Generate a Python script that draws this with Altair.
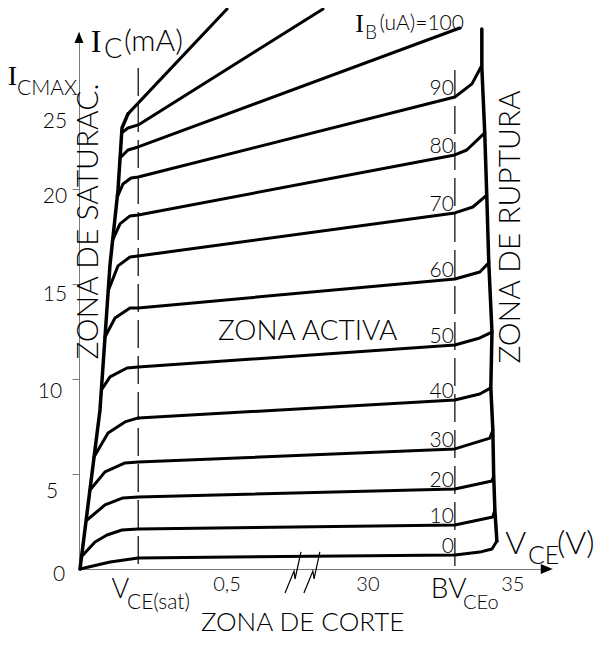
import altair as alt
import pandas as pd

# ---------------- axis layout values (volts / mA) ----------------
X_BREAK_LO, X_BREAK_HI = 0.7466, 27.655   # broken V_CE axis
X_MAX = 36.11
Y_MAX = 28.26
VCE_SAT = 0.2
BV_CEO = 33.0

# ---------------- characteristic curves I_C(V_CE) for each I_B ----------------
ib0_v = [0.0034, 0.105, 0.2, 33.0, 33.86, 34.28, 34.45]
ib0_ma = [0.0, 0.37, 0.58, 0.74, 0.89, 1.05, 1.47]
ib10_v = [0.0135, 0.0541, 0.0946, 0.1453, 0.2, 33.0, 34.31, 34.38]
ib10_ma = [0.74, 1.42, 1.79, 2.05, 2.11, 2.32, 2.74, 3.11]
ib20_v = [0.027, 0.0878, 0.1486, 0.2, 33.0, 34.28, 34.34]
ib20_ma = [2.58, 3.37, 3.74, 3.79, 4.21, 4.63, 4.89]
ib30_v = [0.0372, 0.0878, 0.1554, 0.2, 33.0, 34.21, 34.31]
ib30_ma = [4.16, 5.11, 5.58, 5.63, 6.32, 6.89, 7.32]
ib40_v = [0.0507, 0.098, 0.1554, 0.2, 33.0, 33.86, 34.24]
ib40_ma = [5.89, 7.16, 7.74, 7.95, 8.89, 9.21, 9.53]
ib50_v = [0.0757, 0.1047, 0.1622, 0.2, 33.0, 33.86, 34.28]
ib50_ma = [9.42, 10.11, 10.58, 10.63, 11.79, 12.16, 12.47]
ib60_v = [0.0878, 0.1216, 0.1723, 0.2, 33.0, 33.86, 34.17]
ib60_ma = [12.21, 13.21, 13.74, 13.74, 15.26, 15.63, 16.11]
ib70_v = [0.0997, 0.1318, 0.1723, 0.2, 33.0, 33.62, 34.10]
ib70_ma = [14.68, 15.95, 16.42, 16.47, 18.74, 19.05, 19.68]
ib80_v = [0.1139, 0.1385, 0.1723, 0.2, 33.0, 33.41, 34.03]
ib80_ma = [17.32, 18.16, 18.58, 18.63, 21.79, 22.05, 22.95]
ib90_v = [0.1294, 0.1486, 0.1757, 0.2, 33.0, 33.59, 33.90]
ib90_ma = [19.58, 20.26, 20.58, 20.63, 24.84, 25.53, 26.42]
ib100_v = [0.1385, 0.1655, 0.2, 33.17]
ib100_ma = [21.63, 22.05, 22.21, 28.47]
ib110_v = [0.144, 0.1655, 0.2, 28.45]
ib110_ma = [22.95, 23.21, 23.37, 29.47]
ib120_v = [0.1655, 0.5]
ib120_ma = [23.95, 29.47]

# saturation boundary and breakdown boundary
sat_v = [0.0034, 0.0709, 0.1047, 0.1318, 0.1453, 0.1655]
sat_ma = [0.0, 8.37, 16.0, 19.95, 23.21, 23.95]
brk_v = [33.93, 33.93, 34.03, 34.10, 34.17, 34.28, 34.24, 34.31, 34.34, 34.38, 34.45]
brk_ma = [28.42, 26.42, 22.95, 19.68, 16.11, 12.47, 9.53, 7.32, 4.89, 3.11, 1.47]

# axis-break zig-zags
cut1_v = [0.696, 0.7264, 0.7297, 27.69]
cut2_v = [27.79, 28.10, 28.14, 28.34]
cut_ma = [-1.26, -0.105, -0.526, 0.895]

# labels
ib_names = ["0", "10", "20", "30", "40", "50", "60", "70", "80", "90"]
ib_label_ma = [0.74, 2.32, 4.21, 6.32, 8.89, 11.79, 15.26, 18.74, 21.79, 24.84]
ytick_values = [5, 10, 15, 20, 25]
ylab_text = ["0", "5", "10", "15", "20", "25"]
ylab_v = [-0.0676, -0.0912, -0.0980, -0.0811, -0.0811, -0.0811]
ylab_ma = [-0.32, 4.05, 9.32, 14.42, 19.58, 23.53]
xlab_text = ["0,5", "30", "35"]
xlab_v = [0.5, 30.0, 35.0]
xlab_ma = [-0.84, -0.82, -0.82]

FONT = "Lato"
SERIF = "Liberation Serif"

# ---------------- build tables ----------------
curve_sets = [
    ("0", ib0_v, ib0_ma), ("10", ib10_v, ib10_ma), ("20", ib20_v, ib20_ma),
    ("30", ib30_v, ib30_ma), ("40", ib40_v, ib40_ma), ("50", ib50_v, ib50_ma),
    ("60", ib60_v, ib60_ma), ("70", ib70_v, ib70_ma), ("80", ib80_v, ib80_ma),
    ("90", ib90_v, ib90_ma), ("100", ib100_v, ib100_ma), ("110", ib110_v, ib110_ma),
    ("120", ib120_v, ib120_ma),
]
rows = []
for name, vs, ms in curve_sets:
    for i, (v, m) in enumerate(zip(vs, ms)):
        rows.append({"series": name, "idx": i, "x": v, "y": m})
curves = pd.DataFrame(rows)

bounds = pd.DataFrame(
    [{"series": "sat", "idx": i, "x": v, "y": m} for i, (v, m) in enumerate(zip(sat_v, sat_ma))]
    + [{"series": "brk", "idx": i, "x": v, "y": m} for i, (v, m) in enumerate(zip(brk_v, brk_ma))]
)
cuts = pd.DataFrame(
    [{"series": "c1", "idx": i, "x": v, "y": m} for i, (v, m) in enumerate(zip(cut1_v, cut_ma))]
    + [{"series": "c2", "idx": i, "x": v, "y": m} for i, (v, m) in enumerate(zip(cut2_v, cut_ma))]
)
dashes = pd.DataFrame({"x": [VCE_SAT, BV_CEO], "y": [26.37, 26.26], "y2": [0.0, 0.0]})

xs = alt.Scale(domain=[0, X_BREAK_LO, X_BREAK_HI, X_MAX], range=[0, 221, 221, 466],
               nice=False, zero=False)
ys = alt.Scale(domain=[0, Y_MAX], nice=False, zero=False)
X = alt.X("x:Q", scale=xs, axis=alt.Axis(title=None, ticks=False, labels=False, grid=False,
                                         domainColor="#7a7a7a", domainWidth=1))
Y = alt.Y("y:Q", scale=ys, axis=alt.Axis(title=None, values=ytick_values, tickSize=7,
                                         tickColor="#7a7a7a", tickWidth=1, labels=False,
                                         grid=False, domainColor="#7a7a7a", domainWidth=1))

curve_layer = alt.Chart(curves).mark_line(color="black", strokeWidth=3, strokeJoin="round",
                                           strokeCap="round").encode(
    x=X, y=Y, detail="series:N", order="idx:Q")
bound_layer = alt.Chart(bounds).mark_line(color="black", strokeWidth=3.5, strokeJoin="round",
                                           strokeCap="round").encode(
    x=X, y=Y, detail="series:N", order="idx:Q")
cut_layer = alt.Chart(cuts).mark_line(color="black", strokeWidth=1.2).encode(
    x=X, y=Y, detail="series:N", order="idx:Q")
dash_layer = alt.Chart(dashes).mark_rule(color="black", strokeWidth=1.2, strokeDash=[28, 8]).encode(
    x=X, y=Y, y2="y2:Q")

arrow_up = alt.Chart(pd.DataFrame({"x": [0.0], "y": [27.97]})).mark_point(
    shape="M-0.82,1L0,-1L0.82,1Z", filled=True, color="black", size=121, opacity=1,
    strokeWidth=0).encode(x=X, y=Y)
arrow_right = alt.Chart(pd.DataFrame({"x": [36.17], "y": [0.0]})).mark_point(
    shape="M-1,-0.83L1,0L-1,0.83Z", filled=True, color="black", size=144, opacity=1,
    strokeWidth=0).encode(x=X, y=Y)

# text tables
left_txt = pd.DataFrame([
    {"t": "ZONA ACTIVA", "x": 0.4696, "y": 12.47, "s": 28},
    {"t": "ZONA DE CORTE", "x": 0.412, "y": -2.84, "s": 26},
    {"t": "(mA)", "x": 0.1520, "y": 27.71, "s": 30},
    {"t": "C", "x": 0.0845, "y": 27.30, "s": 27},
    {"t": "CMAX", "x": -0.2095, "y": 25.24, "s": 21},
    {"t": "B", "x": 29.90, "y": 28.20, "s": 19},
    {"t": "(uA)=100", "x": 30.40, "y": 28.66, "s": 21},
    {"t": "CE", "x": 35.52, "y": 0.68, "s": 25},
    {"t": "(V)", "x": 36.52, "y": 1.34, "s": 32},
    {"t": "CE(sat)", "x": 0.1620, "y": -1.79, "s": 21},
    {"t": "BV", "x": 32.17, "y": -1.105, "s": 28},
    {"t": "CEo", "x": 33.28, "y": -1.79, "s": 20},
])
center_txt = pd.DataFrame(
    [{"t": "V", "x": 35.10, "y": 1.34, "s": 32},
     {"t": "V", "x": 0.1400, "y": -1.105, "s": 27}]
    + [{"t": t, "x": v, "y": m, "s": 20} for t, v, m in zip(xlab_text, xlab_v, xlab_ma)]
    + [{"t": t, "x": v, "y": m, "s": 21} for t, v, m in zip(ylab_text, ylab_v, ylab_ma)]
)
serif_txt = pd.DataFrame([
    {"t": "I", "x": 0.0574, "y": 27.72, "s": 32},
    {"t": "I", "x": -0.2247, "y": 25.9, "s": 28},
    {"t": "I", "x": 29.71, "y": 28.68, "s": 26},
])
vert_txt = pd.DataFrame([
    {"t": "ZONA DE SATURAC.", "x": 0.0321, "y": 18.29, "s": 30},
    {"t": "ZONA DE RUPTURA", "x": 34.93, "y": 18.0, "s": 30},
])
ib_txt = pd.DataFrame({"t": ib_names, "x": [BV_CEO] * len(ib_names), "y": ib_label_ma, "s": 21})

enc = dict(x=X, y=Y, text="t:N", size=alt.Size("s:Q", scale=None))
t_left = alt.Chart(left_txt).mark_text(align="left", baseline="middle", font=FONT,
                                       fontWeight=300, color="black").encode(**enc)
t_center = alt.Chart(center_txt).mark_text(align="center", baseline="middle", font=FONT,
                                           fontWeight=300, color="black").encode(**enc)
t_serif = alt.Chart(serif_txt).mark_text(align="center", baseline="middle", font=SERIF,
                                         color="black").encode(**enc)
t_vert = alt.Chart(vert_txt).mark_text(align="center", baseline="middle", angle=270, font=FONT,
                                       fontWeight=300, color="black").encode(**enc)
t_ib = alt.Chart(ib_txt).mark_text(align="right", baseline="alphabetic", dx=-1, dy=-2, font=FONT,
                                   fontWeight=300, color="black").encode(**enc)

chart = alt.layer(
    dash_layer, cut_layer, curve_layer, bound_layer, arrow_up, arrow_right,
    t_left, t_center, t_serif, t_vert, t_ib,
).properties(
    width=466, height=537,
    padding={"left": 71, "top": 24, "right": 52, "bottom": 68},
    autosize=alt.AutoSizeParams(type="none"),
).configure_view(stroke=None)

chart.save("out.html", embed_options={"renderer": "svg", "actions": False})
